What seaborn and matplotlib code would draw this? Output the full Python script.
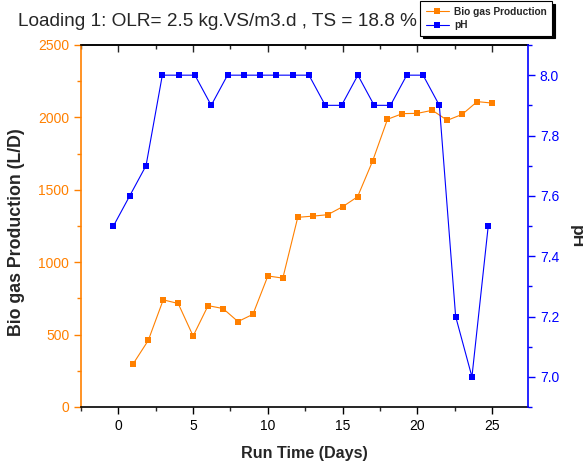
import numpy as np
import pandas as pd
import matplotlib
matplotlib.use("Agg")
import matplotlib.pyplot as plt
from matplotlib.ticker import MultipleLocator
import seaborn as sns

# ---- data ----
biogas_days = [1, 2, 3, 4, 5, 6, 7, 8, 9, 10, 11, 12, 13, 14, 15, 16, 17, 18, 19, 20, 21, 22, 23, 24, 25]
biogas_values = [300, 460, 740, 715, 490, 700, 680, 590, 640, 905, 890, 1310, 1318, 1328, 1383,
                 1452, 1697, 1987, 2026, 2028, 2049, 1980, 2021, 2109, 2099]
ph_days = [-0.33, 0.76, 1.85, 2.94, 4.03, 5.12, 6.21, 7.30, 8.39, 9.48, 10.57, 11.66,
           12.75, 13.84, 14.93, 16.02, 17.11, 18.20, 19.29, 20.38, 21.47, 22.56, 23.65, 24.74]
ph_values = [7.5, 7.6, 7.7, 8.0, 8.0, 8.0, 7.9, 8.0, 8.0, 8.0, 8.0, 8.0,
             8.0, 7.9, 7.9, 8.0, 7.9, 7.9, 8.0, 8.0, 7.9, 7.2, 7.0, 7.5]
x_ticks = [0, 5, 10, 15, 20, 25]
left_ticks = [0, 500, 1000, 1500, 2000, 2500]
right_ticks = [7.0, 7.2, 7.4, 7.6, 7.8, 8.0]

title = "Loading 1: OLR= 2.5 kg.VS/m3.d , TS = 18.8 %"
series1 = "Bio gas Production"
series2 = "pH"

ORANGE = "#FF8000"
BLUE = "#0000FF"

sns.set_style("ticks")
plt.rcParams['font.family'] = ['Liberation Sans', 'DejaVu Sans']

df_bio = pd.DataFrame({"day": biogas_days, "val": biogas_values})
df_ph = pd.DataFrame({"day": ph_days, "val": ph_values})

fig = plt.figure(figsize=(5.83, 4.66), dpi=100)
ax = fig.add_axes([81/583, 1-407/466, (528-81)/583, (407-45)/466])
ax2 = ax.twinx()

sns.lineplot(data=df_bio, x="day", y="val", ax=ax, color=ORANGE, marker="s",
             markersize=4, markeredgewidth=0, linewidth=0.8, label=series1, legend=False)
sns.lineplot(data=df_ph, x="day", y="val", ax=ax2, color=BLUE, marker="s",
             markersize=4, markeredgewidth=0, linewidth=0.8, label=series2, legend=False)

ax.set_xlim(-2.5, 27.4)
ax.set_ylim(0, 2500)
ax2.set_ylim(6.9, 8.1)

ax.set_xticks(x_ticks)
ax.xaxis.set_minor_locator(MultipleLocator(2.5))
ax.set_yticks(left_ticks)
ax.yaxis.set_minor_locator(MultipleLocator(250))
ax2.set_yticks(right_ticks)
ax2.set_yticklabels([f"{v:.1f}" for v in right_ticks])
ax2.yaxis.set_minor_locator(MultipleLocator(0.1))

for a in (ax, ax2):
    for s in a.spines.values():
        s.set_linewidth(1.2)
ax.spines['left'].set_color(ORANGE)
ax.spines['right'].set_visible(False)
ax2.spines['left'].set_visible(False)
ax2.spines['right'].set_color(BLUE)
ax2.spines['top'].set_visible(False)
ax2.spines['bottom'].set_visible(False)
ax.spines['top'].set_visible(True)
ax.spines['top'].set_color('black')
ax.spines['bottom'].set_color('black')

ax.tick_params(axis='x', which='major', length=5, width=1, direction='out', labelsize=10, colors='black')
ax.tick_params(axis='x', which='minor', length=3, width=1, direction='out')
ax.tick_params(axis='y', which='major', length=5, width=1, direction='out', labelsize=10,
               colors=ORANGE, labelcolor=ORANGE)
ax.tick_params(axis='y', which='minor', length=3, width=1, direction='out', colors=ORANGE)
ax2.tick_params(axis='y', which='major', length=5, width=1, direction='out', labelsize=10,
                colors=BLUE, labelcolor=BLUE)
ax2.tick_params(axis='y', which='minor', length=3, width=1, direction='out', colors=BLUE)

top = ax.secondary_xaxis('top')
top.set_xticks(x_ticks)
top.xaxis.set_minor_locator(MultipleLocator(2.5))
top.tick_params(axis='x', which='major', direction='in', length=5, width=1, labeltop=False)
top.tick_params(axis='x', which='minor', direction='in', length=3, width=1)
top.spines['top'].set_linewidth(1.2)

xl = ax.set_xlabel("Run Time (Days)", fontsize=11.6, fontweight='bold')
ax.xaxis.set_label_coords(0.5, -0.1285)
xl.set_va('center')
yl = ax.set_ylabel("Bio gas Production (L/D)", fontsize=12.8, fontweight='bold')
ax.yaxis.set_label_coords(-0.144, 0.483)
yl.set_va('center')
yl.set_ha('center')
pl = ax2.set_ylabel("pH", fontsize=12.5, fontweight='bold', rotation=270)
ax2.yaxis.set_label_coords(1.107, 0.471)
pl.set_va('center')
pl.set_ha('center')

fig.text(18.5/583, 1-25.7/466, title, fontsize=13.7, ha='left', va='baseline')

h1, l1 = ax.get_legend_handles_labels()
h2, l2 = ax2.get_legend_handles_labels()
leg = fig.legend(h1 + h2, l1 + l2, loc='upper left', bbox_to_anchor=(420/583, 1-1/466),
                 prop={'size': 7.3, 'weight': 'bold'}, frameon=True, fancybox=False,
                 shadow={'color': 'black', 'alpha': 1},
                 handlelength=2.3, borderpad=0.55, labelspacing=0.35, handletextpad=0.5,
                 borderaxespad=0)
leg.get_frame().set_edgecolor('black')
leg.get_frame().set_linewidth(0.8)
leg.get_frame().set_alpha(1)

fig.savefig("out.png", dpi=100)
